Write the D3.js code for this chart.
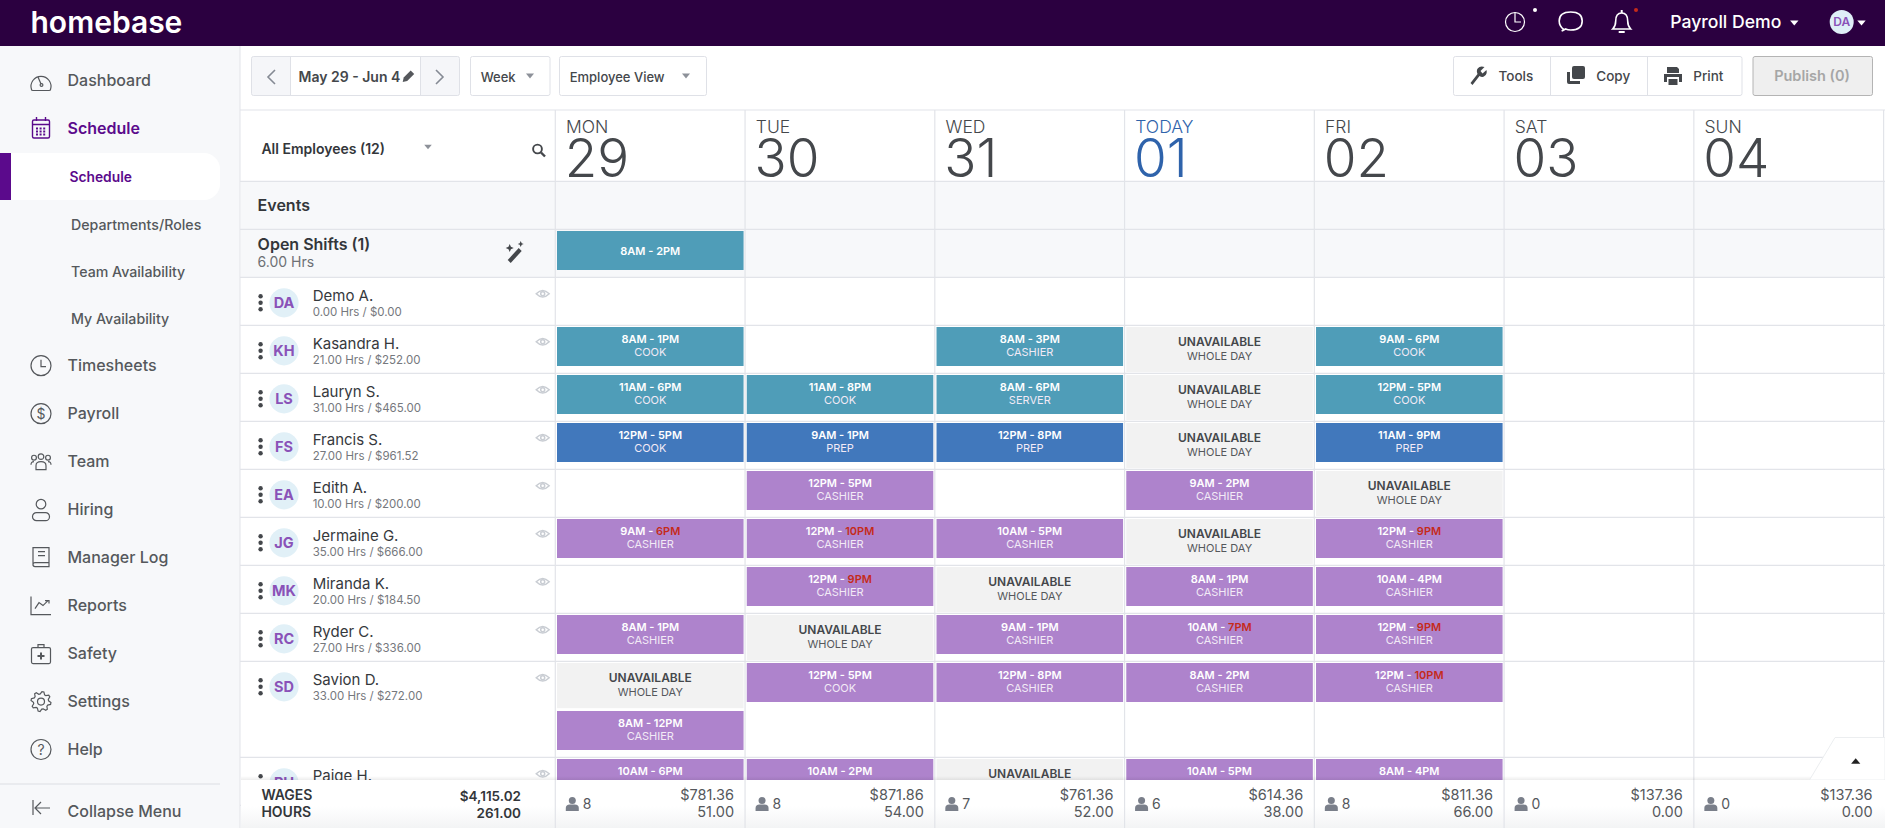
<!DOCTYPE html>
<html>
<head>
<meta charset="utf-8">
<title>homebase schedule</title>
<script src="https://cdn.jsdelivr.net/npm/d3@7"></script>
<style>
html, body { margin: 0; padding: 0; background: #fff; overflow: hidden; }
svg { display: block; font-family: Inter, "Noto Sans", sans-serif; }
</style>
</head>
<body>
<script>
//chart values
var dayNames = ["MON", "TUE", "WED", "TODAY", "FRI", "SAT", "SUN"];
var dayDates = ["29", "30", "31", "01", "02", "03", "04"];

var sideMain = ["Dashboard", "Schedule"];
var sideSub = ["Schedule", "Departments/Roles", "Team Availability", "My Availability"];
var sideRest = ["Timesheets", "Payroll", "Team", "Hiring", "Manager Log", "Reports", "Safety", "Settings", "Help"];

var employees = ["Demo A.", "Kasandra H.", "Lauryn S.", "Francis S.", "Edith A.", "Jermaine G.", "Miranda K.", "Ryder C.", "Savion D.", "Paige H."];
var initials = ["DA", "KH", "LS", "FS", "EA", "JG", "MK", "RC", "SD", "PH"];
var hoursWorked = ["0.00", "21.00", "31.00", "27.00", "10.00", "35.00", "20.00", "27.00", "33.00", ""];
var wagesEarned = ["0.00", "252.00", "465.00", "961.52", "200.00", "666.00", "184.50", "336.00", "272.00", ""];
var rowLanes = [1, 1, 1, 1, 1, 1, 1, 1, 2, 1];

//employee, day, start, end, role, overtime
var tealShifts = [
    ["Open", "MON", "8AM", "2PM", ""],
    ["Kasandra H.", "MON", "8AM", "1PM", "COOK"],
    ["Kasandra H.", "WED", "8AM", "3PM", "CASHIER"],
    ["Kasandra H.", "FRI", "9AM", "6PM", "COOK"],
    ["Lauryn S.", "MON", "11AM", "6PM", "COOK"],
    ["Lauryn S.", "TUE", "11AM", "8PM", "COOK"],
    ["Lauryn S.", "WED", "8AM", "6PM", "SERVER"],
    ["Lauryn S.", "FRI", "12PM", "5PM", "COOK"]
];
var blueShifts = [
    ["Francis S.", "MON", "12PM", "5PM", "COOK"],
    ["Francis S.", "TUE", "9AM", "1PM", "PREP"],
    ["Francis S.", "WED", "12PM", "8PM", "PREP"],
    ["Francis S.", "FRI", "11AM", "9PM", "PREP"]
];
var purpleShifts = [
    ["Edith A.", "TUE", "12PM", "5PM", "CASHIER"],
    ["Edith A.", "TODAY", "9AM", "2PM", "CASHIER"],
    ["Jermaine G.", "MON", "9AM", "6PM", "CASHIER", true],
    ["Jermaine G.", "TUE", "12PM", "10PM", "CASHIER", true],
    ["Jermaine G.", "WED", "10AM", "5PM", "CASHIER"],
    ["Jermaine G.", "FRI", "12PM", "9PM", "CASHIER", true],
    ["Miranda K.", "TUE", "12PM", "9PM", "CASHIER", true],
    ["Miranda K.", "TODAY", "8AM", "1PM", "CASHIER"],
    ["Miranda K.", "FRI", "10AM", "4PM", "CASHIER"],
    ["Ryder C.", "MON", "8AM", "1PM", "CASHIER"],
    ["Ryder C.", "WED", "9AM", "1PM", "CASHIER"],
    ["Ryder C.", "TODAY", "10AM", "7PM", "CASHIER", true],
    ["Ryder C.", "FRI", "12PM", "9PM", "CASHIER", true],
    ["Savion D.", "TUE", "12PM", "5PM", "COOK"],
    ["Savion D.", "WED", "12PM", "8PM", "CASHIER"],
    ["Savion D.", "TODAY", "8AM", "2PM", "CASHIER"],
    ["Savion D.", "FRI", "12PM", "10PM", "CASHIER", true],
    ["Paige H.", "MON", "10AM", "6PM", "CASHIER"],
    ["Paige H.", "TUE", "10AM", "2PM", "CASHIER"],
    ["Paige H.", "TODAY", "10AM", "5PM", "CASHIER"],
    ["Paige H.", "FRI", "8AM", "4PM", "CASHIER"]
];
var savionSecondShift = [["Savion D.", "MON", "8AM", "12PM", "CASHIER"]];
var unavailable = [
    ["Kasandra H.", "TODAY"], ["Lauryn S.", "TODAY"], ["Francis S.", "TODAY"],
    ["Edith A.", "FRI"], ["Jermaine G.", "TODAY"], ["Miranda K.", "WED"],
    ["Ryder C.", "TUE"], ["Savion D.", "MON"], ["Paige H.", "WED"]
];

var footCounts = ["8", "8", "7", "6", "8", "0", "0"];
var footWages = ["781.36", "871.86", "761.36", "614.36", "811.36", "137.36", "137.36"];
var footHours = ["51.00", "54.00", "52.00", "38.00", "66.00", "0.00", "0.00"];

//colours
var teal = "#4f9db8", blue = "#4178bc", purple = "#ae83cc", grey = "#f2f2f2",
    brand = "#2b0040", active = "#5b0a8c", panel = "#f7f8fa", line = "#e2e4e9",
    ink = "#44474b", late = "#c52a1a";

var svg = d3.select("body").append("svg")
    .attr("width", 1885)
    .attr("height", 828);

//scales
var x = d3.scaleBand().domain(dayNames).range([555.3, 1883.6]);
var laneY = d3.scaleLinear().domain([0, 1]).range([277.3, 325.3]);

//lane offset of each employee row
var laneStart = {Open: -1};
var laneCount = 0;
employees.forEach(function(name, i){
    laneStart[name] = laneCount;
    laneCount += rowLanes[i];
});

//small text helper, y is the middle of the capitals
function label(g, tx, ty, str, size, weight, fill, anchor){
    return g.append("text")
        .attr("x", tx)
        .attr("y", ty + size * 0.36)
        .attr("font-size", size)
        .attr("font-weight", weight)
        .attr("fill", fill)
        .attr("text-anchor", anchor || "start")
        .text(str);
}

function caret(g, cx, cy, w, fill, up){
    var h = up ? -w * 0.6 : w * 0.6;
    g.append("path")
        .attr("d", "M" + (cx - w) + " " + (cy - h) + "H" + (cx + w) + "L" + cx + " " + (cy + h) + "Z")
        .attr("fill", fill);
}

function icon(g, cx, cy, markup, stroke, fill, width){
    return g.append("g")
        .attr("transform", "translate(" + cx + "," + cy + ")")
        .attr("fill", fill || "none")
        .attr("stroke", stroke || "none")
        .attr("stroke-width", width || 1.2)
        .html(markup);
}

function gearPath(){
    var pts = d3.range(32).map(function(i){
        var r = (i % 4 < 2) ? 10 : 7.6;
        var a = (i + 0.5) / 32 * Math.PI * 2;
        return [r * Math.cos(a), r * Math.sin(a)];
    });
    return d3.line().curve(d3.curveLinearClosed)(pts);
}

var sideIcons = {
    Dashboard: '<path d="M-9.5 8.5A10 10 0 1 1 9.5 8.5Q9.5 9.5 8 9.5H-8Q-9.5 9.5-9.5 8.5Z"/><path d="M-3-4L0 3"/><circle cx="0.5" cy="4" r="1.4"/>',
    Timesheets: '<circle r="10"/><path d="M0-6V1H5"/>',
    Payroll: '<circle r="10"/><text text-anchor="middle" y="5" font-size="14" fill="#55585c" stroke="none">$</text>',
    Team: '<circle cx="-7" cy="-4" r="2.4"/><circle cx="0" cy="-5" r="2.8"/><circle cx="7" cy="-4" r="2.4"/><path d="M-5 8V4Q-5 0 0 0T5 4V8Z"/><path d="M-10 3Q-10 0-7 0M10 3Q10 0 7 0"/>',
    Hiring: '<circle cy="-5.5" r="4.8"/><rect x="-8.5" y="3" width="17" height="8" rx="4"/>',
    "Manager Log": '<path d="M-8 8V-10H8V9H-6Q-8 9-8 7Q-8 5-6 5H8"/><path d="M-3-6H4M-3-2H4"/>',
    Reports: '<path d="M-10-9V9H10"/><path d="M-6 3L-2-3L2 0L7-5M4-5H8V-2"/>',
    Safety: '<rect x="-9.5" y="-6" width="19" height="16" rx="1.5"/><path d="M-3-6V-9H3V-6"/><path d="M0-1V6M-3.5 2.5H3.5" stroke-width="2"/>',
    Settings: '<path d="' + gearPath() + '"/><circle r="3.5"/>',
    Help: '<circle r="10"/><text text-anchor="middle" y="5" font-size="14" fill="#55585c" stroke="none">?</text>'
};

function drawSidebar(){
    var side = svg.append("g").attr("class", "side");
    side.append("rect").attr("x", 0).attr("y", 46).attr("width", 240).attr("height", 782).attr("fill", panel);
    side.append("line").attr("x1", 240).attr("x2", 240).attr("y1", 46).attr("y2", 828).attr("stroke", line);

    //selected row
    side.append("path")
        .attr("d", "M0 153H204A16 16 0 0 1 220 169V184A16 16 0 0 1 204 200H0Z")
        .attr("fill", "#fff");
    side.append("rect").attr("x", 0).attr("y", 153).attr("width", 11).attr("height", 47).attr("fill", active);

    var mainY = d3.scalePoint().domain(sideMain).range([80, 128]);
    label(side, 67.5, mainY("Dashboard"), "Dashboard", 16, 500, "#55585c");
    label(side, 67.5, mainY("Schedule"), "Schedule", 16, 600, active);
    icon(side, 41, 81, sideIcons.Dashboard, "#55585c");
    icon(side, 41, 128, '<rect x="-8.5" y="-8" width="17" height="18" rx="1.5"/><path d="M-8.5-3.5H8.5M-4.5-11V-7M4.5-11V-7"/><path d="M-5 0.5H5M-5 3.5H5M-5 6.5H5" stroke-width="2" stroke-dasharray="2 1.6"/>', active, "none", 1.4);

    var subY = d3.scalePoint().domain(sideSub).range([177, 319.2]);
    sideSub.forEach(function(d, i){
        label(side, i == 0 ? 69.5 : 71, subY(d), d, i == 0 ? 13.8 : 14.2, i == 0 ? 600 : 500, i == 0 ? active : "#55585c");
    });

    var restY = d3.scalePoint().domain(sideRest).range([365.7, 749.5]);
    sideRest.forEach(function(d){
        label(side, 67.5, restY(d), d, 16, 500, "#55585c");
        icon(side, 41, restY(d), sideIcons[d], "#55585c");
    });

    side.append("line").attr("x1", 0).attr("x2", 220).attr("y1", 784).attr("y2", 784).attr("stroke", "#dcdee3");
    label(side, 67.5, 811, "Collapse Menu", 16, 500, "#55585c");
    icon(side, 41, 808, '<path d="M-8-8V7M9 0H-5M0-6L-6 0L0 6"/>', "#55585c");
}

function drawTopBar(){
    var top = svg.append("g").attr("class", "top");
    top.append("rect").attr("width", 1885).attr("height", 46).attr("fill", brand);
    label(top, 30.5, 22.5, "homebase", 30, 600, "#fff");

    icon(top, 1515, 22, '<circle r="9.5"/><path d="M0-9.5V0H6"/>', "#fff");
    top.append("circle").attr("cx", 1535).attr("cy", 10).attr("r", 2).attr("fill", "#fff");
    icon(top, 1570.7, 21, '<path d="M-7 8.5Q-11.5 5-11.5 0Q-11.5-9 0-9Q11.5-9 11.5 0Q11.5 9 0 9Q-3 9-5 8L-9 10Q-7 9.5-7 8.5Z"/>', "#fff", "none", 1.6);
    icon(top, 1621.7, 21, '<path d="M-9 8Q-6 5-6 0Q-6-8 0-8Q6-8 6 0Q6 5 9 8Z"/><path d="M-3 11H3M0-11V-8" stroke-width="2"/>', "#fff", "none", 1.6);
    top.append("circle").attr("cx", 1636).attr("cy", 10).attr("r", 2).attr("fill", late);

    label(top, 1670.3, 22, "Payroll Demo", 17.6, 500, "#fff");
    caret(top, 1794.3, 23, 4.2, "#fff");
    top.append("circle").attr("cx", 1841.7).attr("cy", 22).attr("r", 12).attr("fill", "#dfeff7");
    label(top, 1841.7, 22, "DA", 12, 600, "#8a52b8", "middle");
    caret(top, 1861.5, 23, 4.2, "#fff");
}

function button(g, x0, x1, fill, stroke){
    g.append("rect")
        .attr("x", x0 + 0.5).attr("y", 56.5)
        .attr("width", x1 - x0).attr("height", 39)
        .attr("rx", 2)
        .attr("fill", fill || "#fff")
        .attr("stroke", stroke || "#dfe1e7");
}

function drawToolbar(){
    var bar = svg.append("g").attr("class", "toolbar");
    button(bar, 251, 459, "#f5f6f9");
    bar.append("rect").attr("x", 290.5).attr("y", 57).attr("width", 130).attr("height", 38).attr("fill", "#fff");
    bar.append("path").attr("d", "M290.5 57V95M420.5 57V95").attr("stroke", "#dfe1e7");
    bar.append("path").attr("d", "M275 70L268 77L275 84").attr("fill", "none").attr("stroke", "#858a94").attr("stroke-width", 1.6);
    bar.append("path").attr("d", "M436 70L443 77L436 84").attr("fill", "none").attr("stroke", "#858a94").attr("stroke-width", 1.6);
    label(bar, 298.5, 77, "May 29 - Jun 4", 14, 600, ink);
    icon(bar, 408.7, 76, '<path d="M-6 6L-5 1.5L2-5.5L5.5-2L-1.5 5Z"/>', "none", "#55585c");

    button(bar, 470, 549.5);
    label(bar, 480.7, 77, "Week", 13, 500, ink);
    caret(bar, 530, 76, 4, "#8d9199");
    button(bar, 559, 706);
    label(bar, 569.7, 77, "Employee View", 13, 500, ink);
    caret(bar, 686, 76, 4, "#8d9199");

    button(bar, 1453, 1741.5);
    bar.append("path").attr("d", "M1550.5 57V95M1647.5 57V95").attr("stroke", "#dfe1e7");
    icon(bar, 1478.5, 75, '<path d="M-8 8L-1-1Q-3-6 1-8Q3-9 6-8L2-4L4-1.5L8-5Q9-1 6 1Q4 3 1 1L-6 10Z"/>', "none", ink);
    label(bar, 1498.5, 76, "Tools", 13.5, 500, ink);
    icon(bar, 1576, 75, '<rect x="-4" y="-9" width="13" height="13" rx="2"/><path d="M-9-3H-6V6H4V9H-7Q-9 9-9 7Z"/>', "none", ink);
    label(bar, 1596.3, 76, "Copy", 13.5, 500, ink);
    icon(bar, 1673, 76, '<path d="M-6-9H4L6-7V-3H-6Z"/><path d="M-9-2H9V6H6V1H-6V6H-9Z"/><path d="M-4.5 3H4.5V9H-4.5Z"/>', "none", ink);
    label(bar, 1693.3, 76, "Print", 13.5, 500, ink);

    button(bar, 1752.5, 1872, "#efefef", "#b4b4b4");
    label(bar, 1812, 75.5, "Publish (0)", 14.5, 600, "#a6a6a6", "middle");
}

function drawGrid(){
    var grid = svg.append("g").attr("class", "grid");
    //tinted rows for events and open shifts
    grid.append("rect").attr("x", 241).attr("y", laneY(-2)).attr("width", 1644).attr("height", laneY(0) - laneY(-2)).attr("fill", panel);

    var rowTops = [110, laneY(-2), laneY(-1), laneY(0)];
    employees.forEach(function(name, i){
        rowTops.push(laneY(laneStart[name] + rowLanes[i]));
    });
    grid.selectAll(".rowLine")
        .data(rowTops)
        .enter()
        .append("line")
        .attr("class", "rowLine")
        .attr("x1", 240).attr("x2", 1885)
        .attr("y1", function(d){ return d; })
        .attr("y2", function(d){ return d; })
        .attr("stroke", line)
        .attr("stroke-width", 1.2);

    grid.selectAll(".colLine")
        .data(dayNames.concat("end"))
        .enter()
        .append("line")
        .attr("class", "colLine")
        .attr("x1", function(d){ return d == "end" ? x.range()[1] : x(d); })
        .attr("x2", function(d){ return d == "end" ? x.range()[1] : x(d); })
        .attr("y1", 110).attr("y2", 828)
        .attr("stroke", line)
        .attr("stroke-width", 1.2);

    //day headers
    dayNames.forEach(function(d, i){
        var c = d == "TODAY" ? "#2f63ab" : ink;
        label(grid, x(d) + 10.7, 126.5, d, 17.5, 300, c);
        label(grid, x(d) + 9.5, 157.5, dayDates[i], 53, 300, c);
    });

    //left column headings
    label(grid, 261.4, 149, "All Employees (12)", 14, 600, "#33363a");
    caret(grid, 428, 147, 3.8, "#8d9199");
    icon(grid, 537.5, 149, '<circle r="4.4"/><path d="M3.5 3.5L7.5 7.5" stroke-width="2.4"/>', ink, "none", 1.9);
    label(grid, 257.6, 205.5, "Events", 16, 600, "#33363a");
    label(grid, 257.6, 244, "Open Shifts (1)", 16, 600, "#33363a");
    label(grid, 257.6, 262.3, "6.00 Hrs", 14, 400, "#6d7075");
    icon(grid, 514.7, 252, '<path d="M-7 8L4-4L7-1L-4 11Z"/><path d="M-5-8L-3.8-5.2L-1-4L-3.8-2.8L-5 0L-6.2-2.8L-9-4L-6.2-5.2Z"/><path d="M6-11L7-8.8L9-8L7-7.2L6-5L5-7.2L3-8L5-8.8Z"/>', "none", "#44474b");
}

function drawEmployees(){
    var rows = svg.selectAll(".employee")
        .data(employees)
        .enter()
        .append("g")
        .attr("class", "employee")
        .attr("transform", function(d){ return "translate(0," + laneY(laneStart[d]) + ")"; });

    rows.each(function(name, i){
        var g = d3.select(this);
        [19, 25.5, 32].forEach(function(dy){
            g.append("circle").attr("cx", 260.6).attr("cy", dy).attr("r", 2.2).attr("fill", "#44474b");
        });
        g.append("circle").attr("cx", 284).attr("cy", 25.5).attr("r", 14.6).attr("fill", "#e1f0f7");
        label(g, 284, 25.5, initials[i], 14.5, 700, "#8a52b8", "middle");
        label(g, 312.7, 18.5, name, 15, 400, "#36393d");
        if (hoursWorked[i]) {
            label(g, 312.7, 34.7, hoursWorked[i] + " Hrs / $" + wagesEarned[i], 11.5, 400, "#75787d");
        }
        icon(g, 542.7, 16.4, '<path d="M-6.5 0Q0-6.5 6.5 0Q0 6.5-6.5 0Z"/><circle r="2"/>', "#c9cdd3", "none", 1.5);
    });
}

function shiftCell(row, lane){
    return "translate(" + (x(row[1]) + 1.7) + "," + (laneY(laneStart[row[0]] + lane) + 1.7) + ")";
}

function drawShifts(list, fill, lane){
    var cells = svg.selectAll(null)
        .data(list)
        .enter()
        .append("g")
        .attr("class", "shift")
        .attr("transform", function(d){ return shiftCell(d, lane); });

    cells.append("rect")
        .attr("width", x.bandwidth() - 3.2)
        .attr("height", 39)
        .attr("fill", fill);

    var mid = (x.bandwidth() - 3.2) / 2;
    var time = cells.append("text")
        .attr("x", mid)
        .attr("y", function(d){ return d[4] ? 15.5 : 23.5; })
        .attr("text-anchor", "middle")
        .attr("font-size", 11)
        .attr("font-weight", 600)
        .attr("fill", "#fff");
    time.append("tspan").text(function(d){ return d[2] + " - "; });
    time.append("tspan")
        .attr("fill", function(d){ return d[5] ? late : "#fff"; })
        .text(function(d){ return d[3]; });

    cells.append("text")
        .attr("x", mid)
        .attr("y", 28.5)
        .attr("text-anchor", "middle")
        .attr("font-size", 11)
        .attr("font-weight", 400)
        .attr("fill", "#f2eaf6")
        .text(function(d){ return d[4]; });
}

function drawUnavailable(){
    var cells = svg.selectAll(".unavailable")
        .data(unavailable)
        .enter()
        .append("g")
        .attr("class", "unavailable")
        .attr("transform", function(d){ return shiftCell(d, 0); });

    cells.append("rect")
        .attr("width", x.bandwidth() - 3.2)
        .attr("height", 45.2)
        .attr("fill", grey);

    cells.append("text")
        .attr("x", (x.bandwidth() - 3.2) / 2)
        .attr("y", 18.6)
        .attr("text-anchor", "middle")
        .attr("font-size", 12)
        .attr("font-weight", 600)
        .attr("fill", ink)
        .text("UNAVAILABLE");

    cells.append("text")
        .attr("x", (x.bandwidth() - 3.2) / 2)
        .attr("y", 33)
        .attr("text-anchor", "middle")
        .attr("font-size", 11)
        .attr("fill", "#55585c")
        .text("WHOLE DAY");
}

function drawFooter(){
    var defs = svg.append("defs");
    var grad = defs.append("linearGradient").attr("id", "footFade").attr("x1", 0).attr("x2", 0).attr("y1", 0).attr("y2", 1);
    grad.append("stop").attr("offset", "0.55").attr("stop-color", "#fff");
    grad.append("stop").attr("offset", "1").attr("stop-color", "#f3f4f5");
    var shade = defs.append("linearGradient").attr("id", "footShade").attr("x1", 0).attr("x2", 0).attr("y1", 0).attr("y2", 1);
    shade.append("stop").attr("offset", "0").attr("stop-color", "#000").attr("stop-opacity", 0);
    shade.append("stop").attr("offset", "1").attr("stop-color", "#000").attr("stop-opacity", 0.07);

    var foot = svg.append("g").attr("class", "footer");
    foot.append("rect").attr("x", 241).attr("y", 776).attr("width", 1644).attr("height", 4).attr("fill", "url(#footShade)");
    foot.append("rect").attr("x", 241).attr("y", 780).attr("width", 1644).attr("height", 48).attr("fill", "url(#footFade)");

    //tab in the corner
    foot.append("path")
        .attr("d", "M1809.5 780L1835 737.5H1885V780Z")
        .attr("fill", "#fff")
        .attr("stroke", "#eceef0");
    foot.append("rect").attr("x", 1805).attr("y", 780).attr("width", 80).attr("height", 3).attr("fill", "#fff");
    caret(foot, 1855.7, 761, 4.6, "#222", true);

    label(foot, 261.4, 795.3, "WAGES", 14, 600, "#33363a");
    label(foot, 261.4, 811.8, "HOURS", 14, 600, "#33363a");
    label(foot, 521, 796.3, "$4,115.02", 13.5, 600, "#33363a", "end");
    label(foot, 521, 812.8, "261.00", 13.5, 600, "#33363a", "end");

    dayNames.forEach(function(d, i){
        foot.append("line")
            .attr("x1", x(d)).attr("x2", x(d))
            .attr("y1", 780).attr("y2", 828)
            .attr("stroke", line)
            .attr("stroke-width", 1.2);
        icon(foot, x(d) + 17, 804, '<circle cy="-3.5" r="3.5"/><path d="M-6.5 7V4Q-6.5 0.5-2.5 0.5H2.5Q6.5 0.5 6.5 4V7Z"/>', "none", "#7a7f8a");
        label(foot, x(d) + 27.5, 804, footCounts[i], 14, 400, "#55585c");
        label(foot, x(d) + x.bandwidth() - 11, 795, "$" + footWages[i], 14.5, 400, "#55585c", "end");
        label(foot, x(d) + x.bandwidth() - 11, 812, footHours[i], 14.5, 400, "#55585c", "end");
    });
}

drawTopBar();
drawSidebar();
drawToolbar();
drawGrid();
drawEmployees();
drawShifts(tealShifts, teal, 0);
drawShifts(blueShifts, blue, 0);
drawShifts(purpleShifts, purple, 0);
drawShifts(savionSecondShift, purple, 1);
drawUnavailable();
drawFooter();
</script>
</body>
</html>
